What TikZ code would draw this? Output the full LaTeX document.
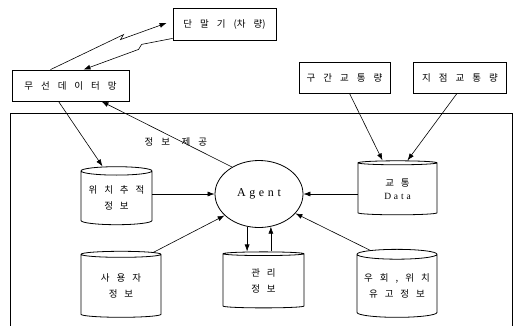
\documentclass[tikz,border=0pt]{standalone}
\usepackage{fontspec}
\newfontfamily\kr{Noto Sans CJK KR}
\newfontfamily\tms[LetterSpace=30]{Liberation Serif}
\usetikzlibrary{arrows.meta,shapes.geometric}

\begin{document}
\begin{tikzpicture}[->,>={Latex[length=7pt,width=5pt]},semithick,x=1pt,y=-1pt,
                    font={\kr\fontsize{9.5}{12}\selectfont\spaceskip=8pt\relax}]
  \tikzstyle{box}=[draw,thick,rectangle,inner sep=0pt]
  \tikzstyle{db}=[draw,thick,cylinder,shape border rotate=90,aspect=0.15,
                  align=center,inner sep=0pt,
                  font={\kr\fontsize{9.5}{16}\selectfont\spaceskip=7pt\relax}]
  \useasboundingbox (0,0) rectangle (517,325);

  % system frame, open at the bottom
  \draw[-,thick] (10,330) -- (10,113) -- (512,113) -- (512,330);

  \node[box,minimum width=103pt,minimum height=32pt] (term) at (224.5,24) {단 말 기 (차 량)};
  \node[box,minimum width=117pt,minimum height=31pt] (net)  at (70.5,85.5) {무 선 데 이 터 망};
  \node[box,minimum width=91pt,minimum height=31pt]  (sect) at (344.5,77.5) {구 간 교 통 량};
  \node[box,minimum width=93pt,minimum height=31pt]  (spot) at (460,77.5) {지 점 교 통 량};

  \node[draw,thick,ellipse,minimum width=88pt,minimum height=67pt,
        font=\tms\fontsize{12}{14}\selectfont] (agent) at (259,194) {Agent};

  \node[db,minimum width=71pt,minimum height=58pt] (track)   at (116.5,198) {위 치 추 적\\정 보};
  \node[db,minimum width=79pt,minimum height=54pt] (traffic) at (397.5,189) {교 통\\[-3pt]{\tms Data}};
  \node[db,minimum width=80pt,minimum height=66pt] (user)    at (121,286) {사 용 자\\정 보};
  \node[db,minimum width=81pt,minimum height=56pt] (mgmt)    at (263.5,281) {관 리\\정 보};
  \node[db,minimum width=80pt,minimum height=68pt] (detour)  at (397,286) {우 회 , 위 치\\유 고 정 보};

  % radio links
  \draw ([xshift=-20pt]net.north) -- ++(73,-35) -- ++(-3,5) -- ([xshift=-6pt,yshift=1pt]term.west);
  \draw ([yshift=2pt]term.south west) -- ++(-31,6) -- ++(-3,5) -- ([xshift=13pt]net.north);

  \path ([xshift=-12pt]net.south) edge ([xshift=-14pt]track.north)
   (agent.135) edge node[pos=0.43,yshift=-3pt] {정 보\hspace{1.2em}제 공} ([xshift=31pt]net.south)
   (track.east |- agent.west) edge (agent.west)
   (traffic.west |- agent.east) edge (agent.east)
   ([xshift=5pt]sect.south) edge ([xshift=-15pt]traffic.north)
   ([xshift=-3pt]spot.south) edge ([xshift=10pt]traffic.north)
   (user.46) edge (agent.212)
   (detour.127) edge (agent.-28)
   (agent.250) edge (agent.250 |- mgmt.north)
   (agent.290 |- mgmt.north) edge (agent.290);
\end{tikzpicture}
\end{document}
